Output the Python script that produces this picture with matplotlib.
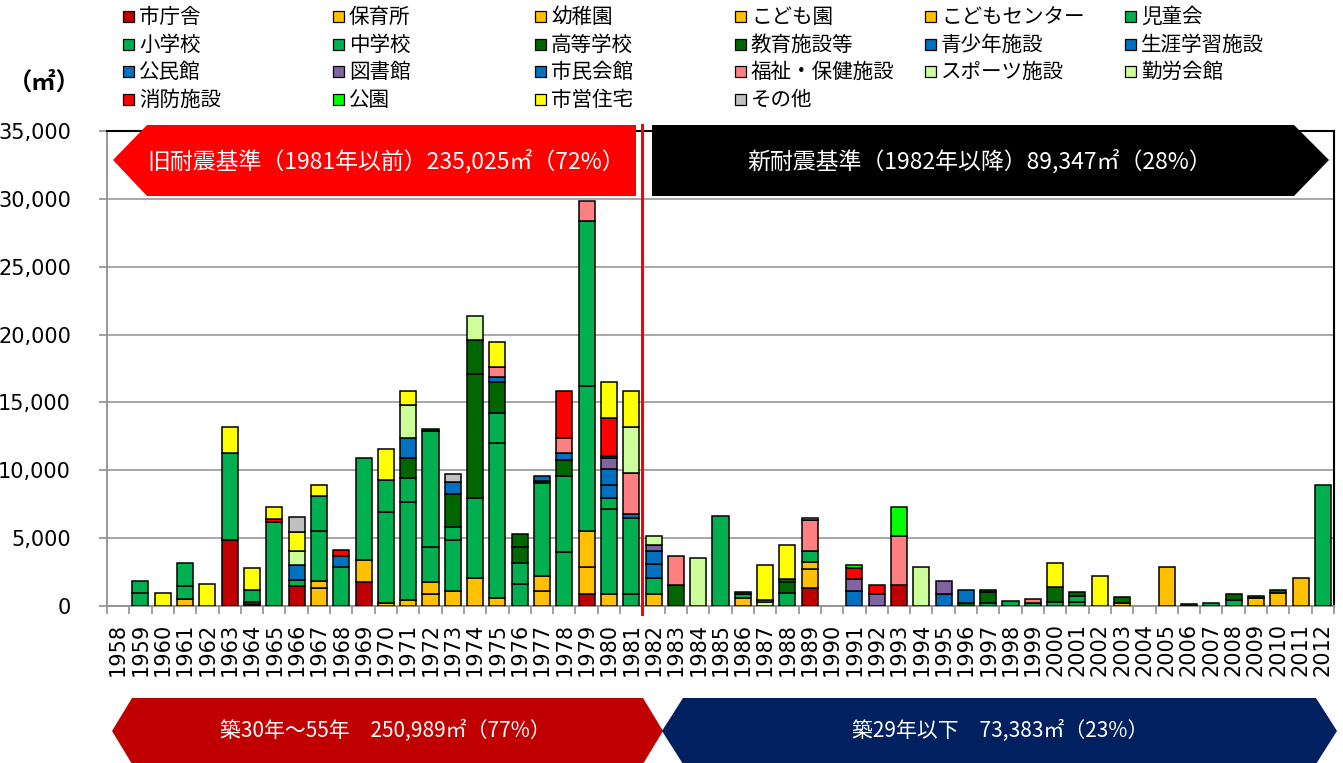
import numpy as np
import matplotlib
matplotlib.use("Agg")
import matplotlib.pyplot as plt
from matplotlib.patches import Polygon, Rectangle
from matplotlib.ticker import FuncFormatter

JP = ['Noto Sans CJK JP', 'DejaVu Sans']

years = list(range(1958, 2013))

# building floor area (m2) by year built, one dict per facility type
shichosha = {1963: 4880, 1964: 120, 1966: 1460, 1969: 1790, 1979: 860, 1989: 1300, 1993: 1550}
hoikusho = {1964: 180, 1967: 1290, 1969: 1600, 1970: 200, 1971: 440, 1972: 880, 1973: 1100,
            1974: 2090, 1975: 610, 1977: 1130, 1979: 1990, 1980: 860, 1986: 610, 1989: 1430,
            2009: 560, 2010: 980, 2011: 2090}
youchien = {1961: 490, 1967: 540, 1972: 910, 1977: 1080, 1979: 2700, 1982: 860, 1989: 540,
            2003: 200, 2005: 2900}
kodomoen = {}
kodomo_center = {}
jidoukai = {}
shougakkou = {1959: 930, 1961: 970, 1963: 6390, 1964: 870, 1965: 6220, 1966: 490, 1967: 3730,
              1968: 2900, 1969: 7540, 1970: 6700, 1971: 7250, 1972: 2580, 1973: 3760, 1974: 5890,
              1975: 11380, 1976: 1600, 1977: 6830, 1978: 4000, 1979: 10680, 1980: 6290, 1981: 860,
              1982: 1180, 1985: 6630, 1986: 250, 1988: 980, 1989: 810, 1997: 250, 1998: 390,
              1999: 250, 2000: 320, 2001: 300, 2007: 250, 2008: 440, 2012: 8920}
chugakkou = {1959: 920, 1961: 1740, 1967: 2540, 1970: 2380, 1971: 1720, 1972: 8520, 1973: 940,
             1975: 2260, 1976: 1540, 1978: 5580, 1979: 12160, 1980: 780, 1981: 5650, 2001: 460}
koutou = {1971: 1470, 1972: 150, 1973: 2450, 1974: 9090, 1975: 2280, 1976: 1230, 1977: 150,
          1978: 1180, 1983: 1520, 1986: 150, 1988: 810, 1997: 780, 2000: 1100, 2001: 250,
          2003: 440, 2006: 120, 2008: 440, 2009: 180, 2010: 200}
kyouiku = {1974: 2530, 1976: 930, 1988: 170, 1996: 200, 1997: 150}
seishounen = {}
shougai = {1980: 990, 1982: 1030}
kouminkan = {1966: 1080, 1968: 790, 1971: 1470, 1973: 890, 1975: 320, 1977: 400, 1978: 540,
             1980: 1150, 1981: 240, 1982: 1010, 1991: 1130, 1995: 880, 1996: 980}
toshokan = {1980: 810, 1982: 390, 1991: 830, 1992: 880, 1995: 990}
shimin_kaikan = {1980: 170}
fukushi = {1975: 740, 1978: 1050, 1979: 1480, 1981: 3070, 1983: 2160, 1989: 2260, 1993: 3610,
           1999: 260}
sports = {1966: 1020, 1971: 2440, 1974: 1770, 1981: 3390, 1982: 690, 1984: 3560, 1987: 300,
          1994: 2900}
kinrou = {1987: 140}
shoubou = {1965: 200, 1968: 410, 1978: 3520, 1980: 2780, 1991: 860, 1992: 670}
kouen = {1991: 200, 1993: 2160}
shiei = {1960: 930, 1962: 1610, 1963: 1910, 1964: 1610, 1965: 900, 1966: 1370, 1967: 830,
         1970: 2310, 1971: 1080, 1975: 1890, 1980: 2700, 1981: 2660, 1987: 2580, 1988: 2530,
         2000: 1720, 2002: 2230}
sonota = {1966: 1120, 1973: 560, 1989: 170}

series = [
    ("市庁舎", shichosha, "#C00000"),
    ("保育所", hoikusho, "#FFC000"),
    ("幼稚園", youchien, "#FFC000"),
    ("こども園", kodomoen, "#FFC000"),
    ("こどもセンター", kodomo_center, "#FFC000"),
    ("児童会", jidoukai, "#00B050"),
    ("小学校", shougakkou, "#00B050"),
    ("中学校", chugakkou, "#00B050"),
    ("高等学校", koutou, "#006600"),
    ("教育施設等", kyouiku, "#006600"),
    ("青少年施設", seishounen, "#0070C0"),
    ("生涯学習施設", shougai, "#0070C0"),
    ("公民館", kouminkan, "#0070C0"),
    ("図書館", toshokan, "#8064A2"),
    ("市民会館", shimin_kaikan, "#0070C0"),
    ("福祉・保健施設", fukushi, "#FF8080"),
    ("スポーツ施設", sports, "#CCFF99"),
    ("勤労会館", kinrou, "#CCFF99"),
    ("消防施設", shoubou, "#FF0000"),
    ("公園", kouen, "#00FF00"),
    ("市営住宅", shiei, "#FFFF00"),
    ("その他", sonota, "#C0C0C0"),
]

fig = plt.figure(figsize=(13.43, 7.63), dpi=100)
ax = fig.add_axes([107 / 1343, 1 - 606 / 763, 1227 / 1343, 475 / 763])

x = np.arange(len(years))
bottom = np.zeros(len(years))
for name, d, col in series:
    vals = np.array([d.get(y, 0) for y in years], dtype=float)
    m = vals > 0
    if m.any():
        ax.bar(x[m], vals[m], bottom=bottom[m], width=0.72, color=col,
               edgecolor="black", linewidth=1.1, zorder=3)
    bottom += vals

ax.set_xlim(-0.5, len(years) - 0.5)
ax.set_ylim(0, 35000)
ax.set_yticks(np.arange(0, 35001, 5000))
ax.yaxis.set_major_formatter(FuncFormatter(lambda v, p: f"{int(v):,}"))
ax.grid(axis="y", color="#a0a0a0", linewidth=1.3, zorder=0)
ax.set_axisbelow(True)
ax.set_xticks(x)
ax.set_xticklabels([str(y) for y in years], rotation=90, fontsize=15, family="DejaVu Sans")
ax.set_xticks(np.arange(-0.5, len(years), 1), minor=True)
ax.tick_params(axis="x", which="major", length=0, pad=12)
ax.tick_params(axis="x", which="minor", length=6, color="#909090", width=1.2)
ax.tick_params(axis="y", length=6, color="#909090", width=1.2, labelsize=15, pad=20)
for lab in ax.get_yticklabels():
    lab.set_family("DejaVu Sans")
for s in ["left", "bottom"]:
    ax.spines[s].set_color("#909090")
    ax.spines[s].set_linewidth(1.3)
for s in ["top", "right"]:
    ax.spines[s].set_color("black")
    ax.spines[s].set_linewidth(1.5)

# divider 1981 / 1982
ax.plot([23.5, 23.5], [-600, 35450], color="red", linewidth=2.2, clip_on=False, zorder=6)

# overlay in pixel coordinates for banners and legend
ov = fig.add_axes([0, 0, 1, 1], zorder=5)
ov.set_xlim(0, 1343)
ov.set_ylim(763, 0)
ov.axis("off")
ov.patch.set_alpha(0)

ov.add_patch(Polygon([(113, 160), (147, 125), (636, 125), (636, 196), (147, 196)],
                     closed=True, facecolor="#FF0000", edgecolor="none"))
ov.add_patch(Polygon([(652, 125), (1294, 125), (1329, 160), (1294, 196), (652, 196)],
                     closed=True, facecolor="black", edgecolor="none"))
ov.text(386, 161, "旧耐震基準（1981年以前）235,025㎡（72%）", color="white", fontsize=16.5,
        family=JP, ha="center", va="center")
ov.text(980, 161, "新耐震基準（1982年以降）89,347㎡（28%）", color="white", fontsize=16.5,
        family=JP, ha="center", va="center")

ov.add_patch(Polygon([(112, 731), (132, 698), (643, 698), (663, 731), (643, 764), (132, 764)],
                     closed=True, facecolor="#C00000", edgecolor="none"))
ov.add_patch(Polygon([(662, 731), (683, 698), (1316, 698), (1337, 731), (1316, 764), (683, 764)],
                     closed=True, facecolor="#002060", edgecolor="none"))
ov.text(385, 731, "築30年～55年　250,989㎡（77%）", color="white", fontsize=15,
        family=JP, ha="center", va="center")
ov.text(1000, 731, "築29年以下　73,383㎡（23%）", color="white", fontsize=15,
        family=JP, ha="center", va="center")

ov.text(44, 83, "（㎡）", fontsize=17.5, fontweight="bold", family=JP, ha="center", va="center")

# legend, row-major like the original
col_x = [123, 333, 535, 735, 925, 1125]
row_y = [17, 45, 72, 100]
for i, (name, d, col) in enumerate(series):
    cx = col_x[i % 6]
    cy = row_y[i // 6]
    ov.add_patch(Rectangle((cx, cy - 6), 11, 11, facecolor=col, edgecolor="black", linewidth=0.9))
    ov.text(cx + 16, cy, name, fontsize=14.8, family=JP, ha="left", va="center")

fig.savefig("out.png", dpi=100)
